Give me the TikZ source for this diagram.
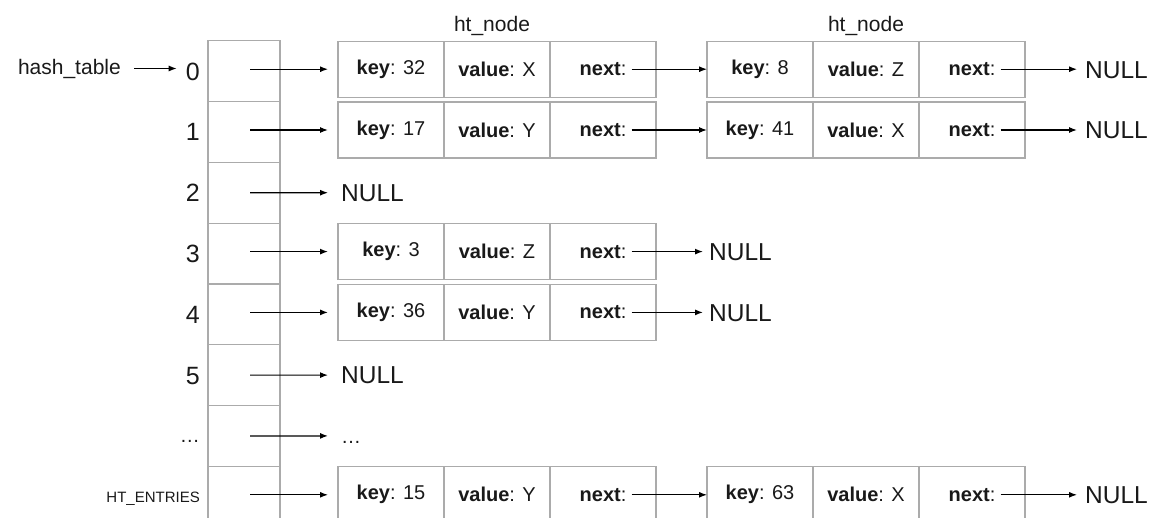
\documentclass[tikz,border=0pt]{standalone}
\usepackage{fontspec}
\setmainfont{Liberation Sans}
\usetikzlibrary{positioning,% relative placement of the cells
arrows.meta}
\tikzset{every node/.style={text=black!90}}

% one ht_node: key, value and next cells side by side
\newcommand{\htrec}[5]{%
  \node[cell] (#1k) at (#2,#3) {\textbf{key}: #4};
  \node[cell, right=0pt of #1k] (#1v) {\textbf{value}: #5};
  \node[cell, right=0pt of #1v] (#1n) {};
  \node[nexttxt] (#1p) at (#1n) {\textbf{next}:};
}

\begin{document}
\begin{tikzpicture}[x=1pt, y=-1pt,
  box/.style={draw=black!33, line width=1.2pt, outer sep=0pt, inner sep=0pt},
  slot/.style={box, minimum width=72pt, minimum height=60.8pt},
  cell/.style={box, minimum width=106pt, minimum height=56pt, font=\fontsize{20}{24}\selectfont},
  nexttxt/.style={inner sep=2pt, font=\fontsize{20}{24}\selectfont},
  idx/.style={inner sep=0pt, text depth=0pt},
  null/.style={inner sep=3pt, anchor=west, text height=17.6pt, text depth=0pt, font=\fontsize{24.5}{29}\selectfont},
  dots/.style={null, text height=14.4pt, font=\fontsize{20}{24}\selectfont},
  title/.style={inner sep=0pt, font=\fontsize{21}{25}\selectfont},
  ptr/.style={-{Latex[length=8pt,width=6pt]}, line width=1.2pt, black},
  slotptr/.style={ptr, shorten <=6pt, shorten >=10pt}
]
\useasboundingbox (0,0) rectangle (1151,517);

% the bucket array and its indices
\foreach \i/\txt/\sz/\th in {0/0/25/18,1/1/25/18,2/2/25/18,3/3/25/18,4/4/25/18,5/5/25/18,6/{\ldots}/20/13,7/{HT\_ENTRIES}/15/12}{
  \node[slot] (a\i) at (244,{71.1+60.8*\i}) {};
  \node[idx, font=\fontsize{\sz}{\sz}\selectfont, text height=\th pt, left=8pt of a\i] (i\i) {\txt};
}

\node[title, anchor=base east] (ht) at (121,74) {hash\_table};
\draw[ptr, shorten <=13pt, shorten >=9pt] (ht.east) -- (ht.east -| i0.west);

\node[title, anchor=base] (lab1) at (492,31.7) {ht\_node};
\node[title, anchor=base] (lab2) at (866,31.7) {ht\_node};

% the chains
\htrec{r0a}{391}{69.2}{32}{X}
\htrec{r0b}{760}{69.2}{8}{Z}
\htrec{r1a}{391}{130}{17}{Y}
\htrec{r1b}{760}{130}{41}{X}
\htrec{r3a}{391}{251.6}{3}{Z}
\htrec{r4a}{391}{312.4}{36}{Y}
\htrec{r7a}{391}{494.8}{15}{Y}
\htrec{r7b}{760}{494.8}{63}{X}

\node[null] (z0) at (1082,69.2) {NULL};
\node[null] (z1) at (1082,130) {NULL};
\node[null] (z2) at (338,192.7) {NULL};
\node[null] (z3) at (706,251.6) {NULL};
\node[null] (z4) at (706,312.4) {NULL};
\node[null] (z5) at (338,375.1) {NULL};
\node[dots] (z6) at (338,435.9) {\ldots};
\node[null] (z7) at (1082,494.8) {NULL};

\draw[slotptr] (a0.center |- r0ak.west) -- (r0ak.west);
\draw[slotptr] (a1.center |- r1ak.west) -- (r1ak.west);
\draw[slotptr] (a2.center) -- (z2.west);
\draw[slotptr] (a3.center |- r3ak.west) -- (r3ak.west);
\draw[slotptr] (a4.center |- r4ak.west) -- (r4ak.west);
\draw[slotptr] (a5.center) -- (z5.west);
\draw[slotptr] (a6.center) -- (z6.west);
\draw[slotptr] (a7.center |- r7ak.west) -- (r7ak.west);

\draw[ptr, shorten <=3pt] (r0ap.east) -- (r0bk.west);
\draw[ptr, shorten <=3pt, shorten >=5pt] (r0bp.east) -- (z0.west);
\draw[ptr, shorten <=3pt] (r1ap.east) -- (r1bk.west);
\draw[ptr, shorten <=3pt, shorten >=5pt] (r1bp.east) -- (z1.west);
\draw[ptr, shorten <=3pt, shorten >=3pt] (r3ap.east) -- (z3.west);
\draw[ptr, shorten <=3pt, shorten >=3pt] (r4ap.east) -- (z4.west);
\draw[ptr, shorten <=3pt] (r7ap.east) -- (r7bk.west);
\draw[ptr, shorten <=3pt, shorten >=5pt] (r7bp.east) -- (z7.west);
\end{tikzpicture}
\end{document}
